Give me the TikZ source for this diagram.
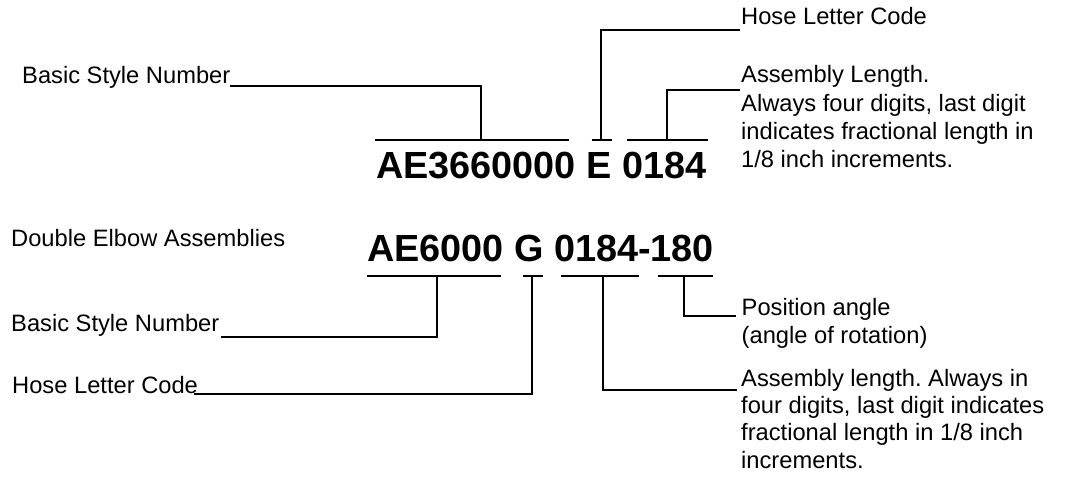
\documentclass[tikz,border=0pt]{standalone}
\usepackage{fontspec}
\setmainfont{Liberation Sans}
\frenchspacing
\begin{document}
\begin{tikzpicture}[x=1pt,y=-1pt,
  lbl/.style={anchor=base west,inner sep=0pt,font=\fontsize{23.7}{27.5}\selectfont},
  code/.style={anchor=base west,inner sep=0pt,font=\fontsize{37.8}{40}\selectfont\bfseries},
  ln/.style={line width=2pt,line join=miter,line cap=butt}]
\useasboundingbox (0,0) rectangle (1066,482);

% ---------- upper part ----------
\node[lbl] (bsn1) at (22,83.3) {Basic Style Number};
\node[lbl] (hlc1) at (741,24) {Hose Letter Code};
\node[lbl] (al1) at (741,82.7) {Assembly Length.};
\node[lbl] (al2) at (741,111) {Always four digits, last digit};
\node[lbl] (al3) at (741,139) {indicates fractional length in};
\node[lbl] (al4) at (741,167) {1/8 inch increments.};
\node[code] (c1) at (376,178.5) {AE3660000 E 0184};

% underlines of code 1
\coordinate (u1s) at (375,140);   \coordinate (u1e) at (569,140);
\coordinate (u2s) at (591.7,140); \coordinate (u2e) at (611.7,140);
\coordinate (u3s) at (626.7,140); \coordinate (u3e) at (707.7,140);
\draw[ln] (u1s) -- (u1e);
\draw[ln] (u2s) -- (u2e);
\draw[ln] (u3s) -- (u3e);

% leaders of code 1
\coordinate (p1) at (480.7,140);  \coordinate (q1) at (230,85.5);
\coordinate (p2) at (601,140);    \coordinate (q2) at (740,30);
\coordinate (p3) at (667.3,140);  \coordinate (q3) at (740,90);
\draw[ln] (q1) -| (p1);
\draw[ln] (p2) |- (q2);
\draw[ln] (p3) |- (q3);

% ---------- lower part ----------
\node[lbl] (dea) at (11,246) {Double Elbow Assemblies};
\node[code] (c2) at (367,261.7) {AE6000 G 0184-180};
\node[lbl] (bsn2) at (11,331) {Basic Style Number};
\node[lbl] (hlc2) at (12,393) {Hose Letter Code};
\node[lbl] (pa1) at (741.5,315) {Position angle};
\node[lbl] (pa2) at (741.5,343) {(angle of rotation)};
\node[lbl] (asl1) at (741,386.7) {Assembly length. Always in};
\node[lbl] (asl2) at (741,413.5) {four digits, last digit indicates};
\node[lbl] (asl3) at (741,440.5) {fractional length in 1/8 inch};
\node[lbl] (asl4) at (741,468) {increments.};

% underlines of code 2
\coordinate (v1s) at (367,275.5);   \coordinate (v1e) at (500.7,275.5);
\coordinate (v2s) at (522.7,275.5); \coordinate (v2e) at (542.7,275.5);
\coordinate (v3s) at (561,275.5);   \coordinate (v3e) at (639.3,275.5);
\coordinate (v4s) at (657.7,275.5); \coordinate (v4e) at (713.3,275.5);
\draw[ln] (v1s) -- (v1e);
\draw[ln] (v2s) -- (v2e);
\draw[ln] (v3s) -- (v3e);
\draw[ln] (v4s) -- (v4e);

% leaders of code 2
\coordinate (r1) at (437.3,275.5); \coordinate (s1) at (221,336.5);
\coordinate (r2) at (532.3,275.5); \coordinate (s2) at (194,393.5);
\coordinate (r3) at (603.3,275.5); \coordinate (s3) at (737,390);
\coordinate (r4) at (684,275.5);   \coordinate (s4) at (736,316);
\draw[ln] (r1) |- (s1);
\draw[ln] (r2) |- (s2);
\draw[ln] (r3) |- (s3);
\draw[ln] (r4) |- (s4);
\end{tikzpicture}
\end{document}
